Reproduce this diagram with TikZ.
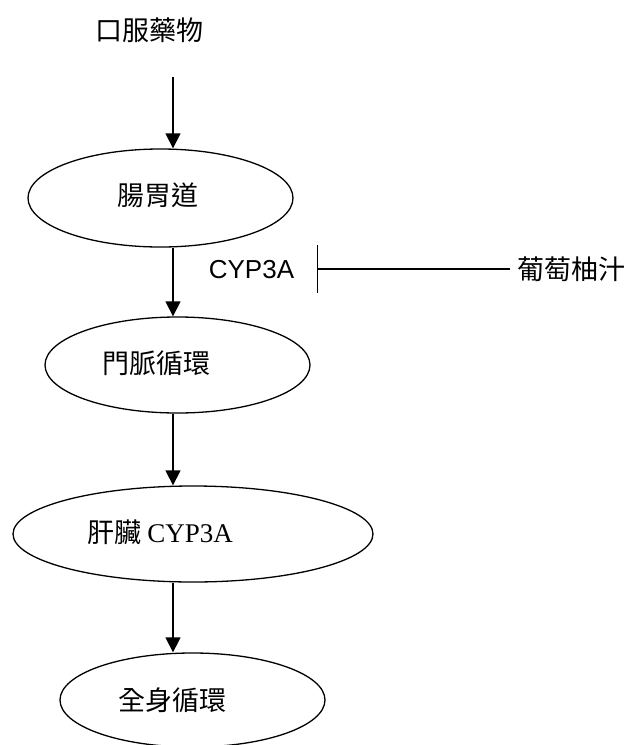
\documentclass[tikz,border=0pt]{standalone}
\usepackage{fontspec}
\newfontfamily\cjk{Noto Sans CJK TC}
\newfontfamily\lsans{Liberation Sans}
\newfontfamily\lserif{Liberation Serif}
\usetikzlibrary{shapes.geometric,arrows.meta}
\begin{document}
\begin{tikzpicture}[x=1pt,y=-1pt,
  line width=1.3pt,
  oval/.style={draw,ellipse,inner sep=0pt},
  lab/.style={inner sep=0pt,font=\cjk\fontsize{27pt}{30pt}\selectfont},
  flow/.style={-{Triangle[width=15pt,length=15pt]}},
  block/.style={-{Bar[width=48pt]}}]
\useasboundingbox (0,0) rectangle (634,745);
\coordinate (ax) at (173,0);
% top label
\node[lab] (drug) at (149,30) {口服藥物};
\coordinate (a0) at (173,77);
% ellipses
\node[oval,minimum width=265pt,minimum height=98pt] (e1) at (160.5,198) {};
\node[lab] (t1) at (157.5,195) {腸胃道};
\node[oval,minimum width=265pt,minimum height=96pt] (e2) at (177.5,365) {};
\node[lab] (t2) at (156.5,363) {門脈循環};
\node[oval,minimum width=360pt,minimum height=96pt] (e3) at (193,534) {};
\node[lab] (t3) at (160,532) {肝臟 {\lserif CYP3A}};
\node[oval,minimum width=265pt,minimum height=94pt] (e4) at (192.5,700) {};
\node[lab] (t4) at (172.5,700) {全身循環};
% arrows
\draw[flow] (a0) -- (e1.north -| ax);
\draw[flow] (e1.south -| ax) -- (e2.north -| ax);
\draw[flow] (e2.south -| ax) -- (e3.north -| ax);
\draw[flow] (e3.south -| ax) -- (e4.north -| ax);
% inhibition
\node[inner sep=0pt,font=\lsans\fontsize{26pt}{30pt}\selectfont] (cyp) at (251.5,270) {CYP3A};
\node[lab,anchor=west] (juice) at (517,269) {葡萄柚汁};
\coordinate (jl) at (510,269);
\coordinate (bar) at (317,269);
\draw[block] (jl) -- (bar);
\end{tikzpicture}
\end{document}
